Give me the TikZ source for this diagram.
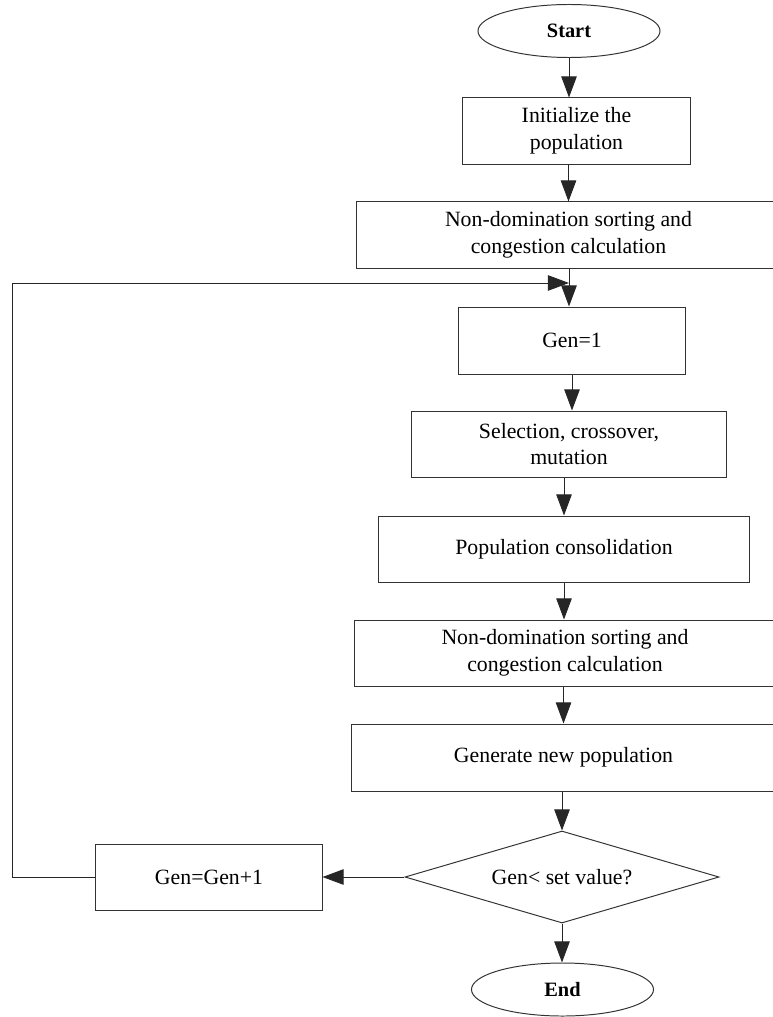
\documentclass[tikz,border=0pt]{standalone}
\usepackage{fontspec}
\setmainfont{Liberation Serif}
\usetikzlibrary{arrows.meta,shapes.geometric}

\tikzset{
  box/.style={draw=black!80, line width=0.7pt, rectangle, minimum height=1.65cm,
    inner sep=0pt, align=center, font=\fontsize{15.5}{19}\selectfont},
  term/.style={draw=black!80, line width=0.7pt, ellipse, minimum width=4.55cm,
    minimum height=1.325cm, inner sep=0pt, font=\fontsize{14.5}{17}\selectfont\bfseries},
  decision/.style={draw=black!80, line width=0.7pt, diamond, aspect=3.4,
    minimum width=7.85cm, minimum height=2.3cm, inner sep=0pt,
    font=\fontsize{15.5}{19}\selectfont},
  arr/.style={draw=black!85, line width=0.7pt, -{Triangle[length=15pt,width=11pt]}}
}

\begin{document}
\begin{tikzpicture}[x=0.025cm, y=-0.025cm]
    \useasboundingbox (0,0) rectangle (772,1017);

    \node[term] (start) at (569,31) {Start};
    \node[box, minimum width=5.675cm] (init) at (576.5,131) {Initialize the\\population};
    \node[box, minimum width=10.575cm] (sort1) at (568.5,235) {Non-domination sorting and\\congestion calculation};
    \node[box, minimum width=5.65cm, minimum height=1.675cm] (gen1) at (572,340.5) {Gen=1};
    \node[box, minimum width=7.85cm] (sel) at (569,444) {Selection, crossover,\\mutation};
    \node[box, minimum width=9.25cm] (merge2) at (564,549) {Population consolidation};
    \node[box, minimum width=10.5cm] (sort2) at (565,653) {Non-domination sorting and\\congestion calculation};
    \node[box, minimum width=10.575cm, minimum height=1.675cm] (newpop) at (563.5,757.5) {Generate new population};
    \node[decision] (test) at (562,877) {Gen< set value?};
    \node[box, minimum width=5.65cm] (incr) at (209,877) {Gen=Gen+1};
    \node[term] (stop) at (562.5,989.5) {End};

    \coordinate (turn) at (12,283);
    \coordinate (join) at (569,283);

    \draw[arr] (start.south) -- (start.south |- init.north);
    \draw[arr] (init.south -| sort1) -- (sort1.north);
    \draw[arr] (sort1.south -| join) -- (join |- gen1.north);
    \draw[arr] (gen1.south) -- (gen1.south |- sel.north);
    \draw[arr] (sel.south -| merge2) -- (merge2.north);
    \draw[arr] (merge2.south) -- (merge2.south |- sort2.north);
    \draw[arr] (sort2.south -| newpop) -- (newpop.north);
    \draw[arr] (newpop.south -| test) -- (test.north);
    \draw[arr] (test.south) -- (test.south |- stop.north);
    \draw[arr] (test.west) -- (incr.east);
    \draw[arr] (incr.west) -| (turn) -- (join);
\end{tikzpicture}
\end{document}
